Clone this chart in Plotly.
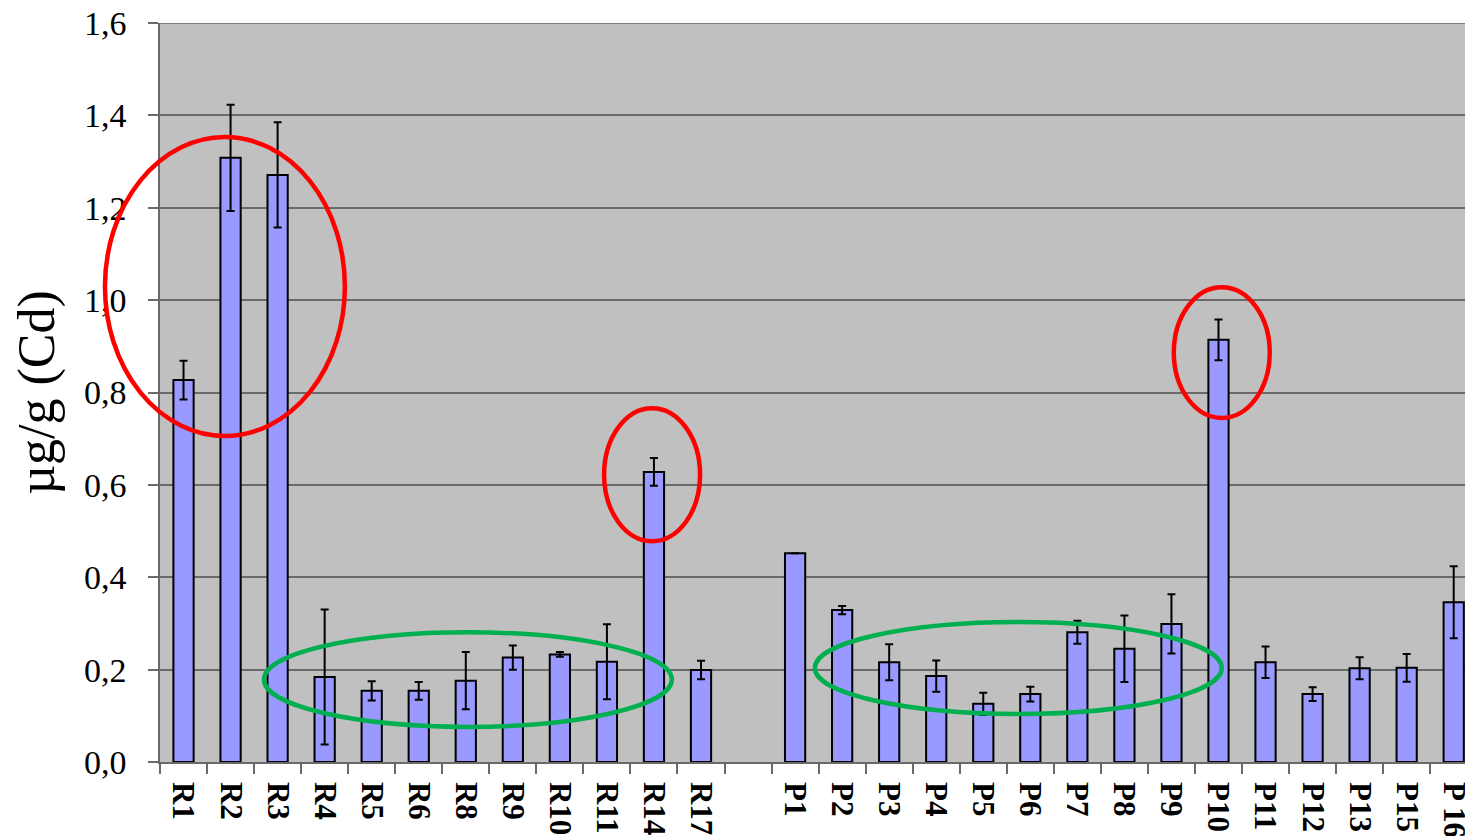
import plotly.graph_objects as go

# ---- data ----
categories = ["R1", "R2", "R3", "R4", "R5", "R6", "R8", "R9", "R10", "R11", "R14", "R17",
              " ",
              "P1", "P2", "P3", "P4", "P5", "P6", "P7", "P8", "P9", "P10", "P11", "P12", "P13", "P15", "P 16"]
values = [0.827, 1.308, 1.271, 0.184, 0.154, 0.154, 0.176, 0.226, 0.233, 0.217, 0.628, 0.199,
          None,
          0.452, 0.329, 0.216, 0.186, 0.126, 0.147, 0.281, 0.245, 0.299, 0.914, 0.216, 0.147, 0.203, 0.204, 0.346]
errors = [0.042, 0.115, 0.114, 0.146, 0.021, 0.019, 0.062, 0.026, 0.005, 0.081, 0.030, 0.020,
          None,
          0.0, 0.009, 0.039, 0.034, 0.024, 0.016, 0.025, 0.072, 0.064, 0.044, 0.034, 0.015, 0.024, 0.030, 0.078]
y_tickvals = [0.0, 0.2, 0.4, 0.6, 0.8, 1.0, 1.2, 1.4, 1.6]
y_ticktext = ["0,0", "0,2", "0,4", "0,6", "0,8", "1,0", "1,2", "1,4", "1,6"]
y_title = "µg/g (Cd)"

# highlight ellipses in data units (category index, value)
ellipses_x0 = [-1.67, 8.94, 21.05, 1.71, 13.42]
ellipses_x1 = [3.43, 10.98, 23.09, 10.38, 22.07]
ellipses_y0 = [0.706, 0.478, 0.745, 0.076, 0.104]
ellipses_y1 = [1.353, 0.766, 1.028, 0.281, 0.303]
ellipses_color = ["#FF0000", "#FF0000", "#FF0000", "#00B050", "#00B050"]

X_RANGE = [-0.5, 27.41]
Y_RANGE = [0.0, 1.6]
GRID = "#6A6A6A"

fig = go.Figure()
fig.add_trace(go.Bar(
    x=categories, y=values,
    marker=dict(color="#9999FF", line=dict(color="#000000", width=2)),
    error_y=dict(type="data", array=errors, visible=True, color="#000000", thickness=2, width=4),
))


def px_(v):
    return (v - X_RANGE[0]) / (X_RANGE[1] - X_RANGE[0])


def py_(v):
    return (v - Y_RANGE[0]) / (Y_RANGE[1] - Y_RANGE[0])


# top gridline at the upper end of the value axis
fig.add_shape(type="line", xref="paper", yref="y", x0=0, x1=1, y0=Y_RANGE[1], y1=Y_RANGE[1],
              line=dict(color=GRID, width=1.5), layer="below")

for x0, x1, y0, y1, c in zip(ellipses_x0, ellipses_x1, ellipses_y0, ellipses_y1, ellipses_color):
    fig.add_shape(type="circle", xref="paper", yref="paper",
                  x0=px_(x0), x1=px_(x1), y0=py_(y0), y1=py_(y1),
                  line=dict(color=c, width=4.5), layer="above")

fig.update_layout(
    width=1465, height=828,
    margin=dict(l=152, r=0, t=15, b=74, autoexpand=False),
    paper_bgcolor="#FFFFFF", plot_bgcolor="#C0C0C0",
    bargap=0.57, showlegend=False,
    font=dict(family="Liberation Serif", color="#000000"),
)
fig.update_xaxes(
    type="category", categoryorder="array", categoryarray=categories,
    range=X_RANGE, tickson="boundaries", ticks="outside", ticklen=10, tickwidth=1.5,
    tickcolor=GRID, showline=True, linecolor=GRID, linewidth=1.5,
    showgrid=False, tickangle=90, automargin=False, ticklabelstandoff=12,
    ticklabeloverflow="allow",
    tickfont=dict(family="Liberation Serif", size=31, weight="bold", color="#000000"),
)
fig.update_yaxes(
    range=Y_RANGE, tickvals=y_tickvals, ticktext=y_ticktext,
    ticks="outside", ticklen=10, tickwidth=1.5, tickcolor=GRID,
    showline=True, linecolor=GRID, linewidth=1.5,
    showgrid=True, gridcolor=GRID, gridwidth=1.5, zeroline=False,
    automargin=False, ticklabelstandoff=15, ticklabeloverflow="allow",
    tickfont=dict(family="Liberation Serif", size=34, color="#000000"),
    title=dict(text=y_title, font=dict(family="Liberation Serif", size=52, color="#000000"), standoff=20),
)

fig.write_html("out.html")
